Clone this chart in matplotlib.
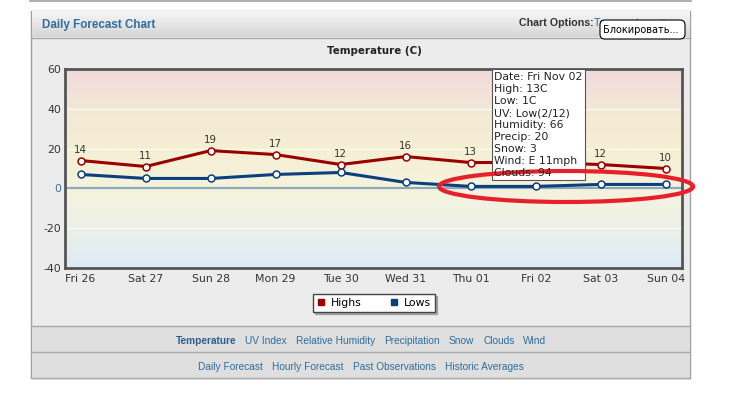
import numpy as np
import matplotlib.pyplot as plt
from matplotlib.patches import Rectangle, Ellipse, FancyBboxPatch
from matplotlib.lines import Line2D

plt.rcParams['axes.unicode_minus'] = False

days = ['Fri 26', 'Sat 27', 'Sun 28', 'Mon 29', 'Tue 30',
        'Wed 31', 'Thu 01', 'Fri 02', 'Sat 03', 'Sun 04']
highs = [14, 11, 19, 17, 12, 16, 13, 13, 12, 10]
lows = [7, 5, 5, 7, 8, 3, 1, 1, 2, 2]
yticks = [-40, -20, 0, 20, 40, 60]
tooltip_lines = ['Date: Fri Nov 02', 'High: 13C', 'Low: 1C', 'UV: Low(2/12)',
                 'Humidity: 66', 'Precip: 20', 'Snow: 3', 'Wind: E 11mph',
                 'Clouds: 94']
chart_links = ['Temperature', 'UV Index', 'Relative Humidity', 'Precipitation',
               'Snow', 'Clouds', 'Wind']
page_links = ['Daily Forecast', 'Hourly Forecast', 'Past Observations',
              'Historic Averages']

W, H = 731, 400
LINK = '#2f6d9c'
fig = plt.figure(figsize=(W / 100, H / 100), dpi=100, facecolor='white')

# page / panel layer, pixel coordinates (y down)
bg = fig.add_axes([0, 0, 1, 1], zorder=0)
bg.axis('off')
bg.add_line(Line2D([30, 691], [0.5, 0.5], color='#a0a0a0', lw=1.2))
bg.add_patch(Rectangle((31, 11), 659, 367, facecolor='#ececec',
                       edgecolor='#a0a0a0', lw=1))
grad = np.linspace(0, 1, 30)[:, None, None]
top_c = np.array([0.965, 0.965, 0.965])
bot_c = np.array([0.84, 0.84, 0.84])
hdr = top_c * (1 - grad) + bot_c * grad
bg.imshow(hdr, extent=(31.5, 689.5, 37, 11.5), aspect='auto', origin='upper', zorder=1)
bg.add_line(Line2D([31, 690], [37.5, 37.5], color='#a8a8a8', lw=1, zorder=2))
bg.add_patch(Rectangle((31.5, 326), 658, 52, facecolor='#dfdfdf', edgecolor='none', zorder=1))
for yy in [326, 352, 378]:
    bg.add_line(Line2D([31, 690], [yy, yy], color='#a8a8a8', lw=1, zorder=2))
bg.text(42, 25, 'Daily Forecast Chart', fontsize=8.4, fontweight='bold',
        family='Liberation Sans', color=LINK, va='center', zorder=3)
bg.text(519, 22.5, 'Chart Options:', fontsize=7.7, fontweight='bold',
        family='Liberation Sans', color='#333333', va='center', zorder=3)
bg.text(594, 22.5, 'Temperature \u25bc', fontsize=7.7,
        family='Liberation Sans', color=LINK, va='center', zorder=3)
bg.add_patch(FancyBboxPatch((600, 20), 85, 19, boxstyle='round,pad=0,rounding_size=5',
                            facecolor='white', edgecolor='black', lw=0.8, zorder=4))
bg.text(603, 30, 'Блокировать...', fontsize=7, color='black', va='center', zorder=5)
bg.text(374, 51, 'Temperature (C)', fontsize=7.4, fontweight='bold',
        color='#222222', ha='center', va='center')
bg.set_xlim(0, W)
bg.set_ylim(H, 0)

# links rows, laid out left to right with a fixed gap, centred
renderer = fig.canvas.get_renderer()
for items, yy, bold_first in [(chart_links, 341, True), (page_links, 367, False)]:
    texts = []
    for i, s in enumerate(items):
        t = bg.text(0, yy, s, fontsize=7.3, family='Liberation Sans', va='center',
                    color='#2c5f8a' if (bold_first and i == 0) else LINK,
                    fontweight='bold' if (bold_first and i == 0) else 'normal', zorder=3)
        texts.append(t)
    widths = [t.get_window_extent(renderer).width for t in texts]
    gap = 9
    x = 361 - (sum(widths) + gap * (len(widths) - 1)) / 2
    for t, w in zip(texts, widths):
        t.set_x(x)
        x += w + gap

# chart
ax = fig.add_axes([65 / W, 1 - 268 / H, 617 / W, 199 / H], zorder=5)
x = np.arange(len(days))
ax.set_xlim(-0.24, len(days) - 1 + 0.25)
ax.set_ylim(-40, 60)
stops = np.array([[241, 218, 220], [243, 232, 214], [245, 239, 211],
                  [245, 243, 222], [236, 241, 232], [221, 234, 248]]) / 255
pos = np.linspace(0, 1, len(stops))
t = np.linspace(0, 1, 200)
grad_img = np.stack([np.interp(t, pos, stops[:, k]) for k in range(3)], axis=1)[:, None, :]
ax.imshow(grad_img, extent=(-0.24, len(days) - 0.75, -40, 60), aspect='auto',
          origin='upper', zorder=0)
for yv in [-20, 20, 40]:
    ax.axhline(yv, color='white', lw=1, alpha=0.7, zorder=1)
ax.axhline(0, color='#8eaaba', lw=1.6, zorder=1)

ax.plot(x, highs, color='#990000', lw=2.2, marker='o', markersize=5,
        markerfacecolor='white', markeredgecolor='#990000', markeredgewidth=1.1,
        zorder=3, label='Highs')
ax.plot(x, lows, color='#0b3f7d', lw=2.2, marker='o', markersize=5,
        markerfacecolor='white', markeredgecolor='#0b3f7d', markeredgewidth=1.1,
        zorder=3, label='Lows')
for xi, v in zip(x, highs):
    ax.annotate(str(v), (xi, v), xytext=(0, 4), textcoords='offset points',
                ha='center', va='bottom', fontsize=7.4, color='#333333')

ax.set_xticks(x)
ax.set_xticklabels(days)
ax.set_yticks(yticks)
ax.tick_params(length=0, labelsize=7.8, colors='#333333')
ax.tick_params(axis='x', pad=4)
ax.tick_params(axis='y', pad=3)
for lab in ax.get_yticklabels():
    if lab.get_text() == '0':
        lab.set_color('#3d6f95')
for sp in ax.spines.values():
    sp.set_color('#555555')
    sp.set_linewidth(2)

handles = [Line2D([], [], marker='s', ls='none', color='#990000', markersize=5),
           Line2D([], [], marker='s', ls='none', color='#0b3f7d', markersize=5)]
leg = ax.legend(handles, ['Highs', 'Lows'], loc='center', ncol=2,
                bbox_to_anchor=(374 / W, 1 - 303 / H), bbox_transform=fig.transFigure,
                fontsize=7.8, frameon=True, fancybox=False,
                shadow={'ox': 1.5, 'oy': -1.5, 'shade': 0.55},
                edgecolor='#444444', facecolor='white', framealpha=1,
                handlelength=0.8, handletextpad=0.5, columnspacing=2.6, borderpad=0.35)
leg.get_frame().set_linewidth(1)

# tooltip and hand-drawn highlight on top
fg = fig.add_axes([0, 0, 1, 1], zorder=10)
fg.axis('off')
fg.patch.set_alpha(0)
box = Rectangle((492, 69), 93, 111, facecolor='white', edgecolor='#555555', lw=0.8)
fg.add_patch(box)
for i, s in enumerate(tooltip_lines):
    tt = fg.text(494, 77 + 12 * i, s, fontsize=7.8, color='#222222', va='center')
    tt.set_clip_path(box)
fg.add_patch(Ellipse((566, 186.5), 254, 31, fill=False, edgecolor='#e8202a', lw=3))
fg.set_xlim(0, W)
fg.set_ylim(H, 0)

fig.savefig('out.png', dpi=100, facecolor='white')
